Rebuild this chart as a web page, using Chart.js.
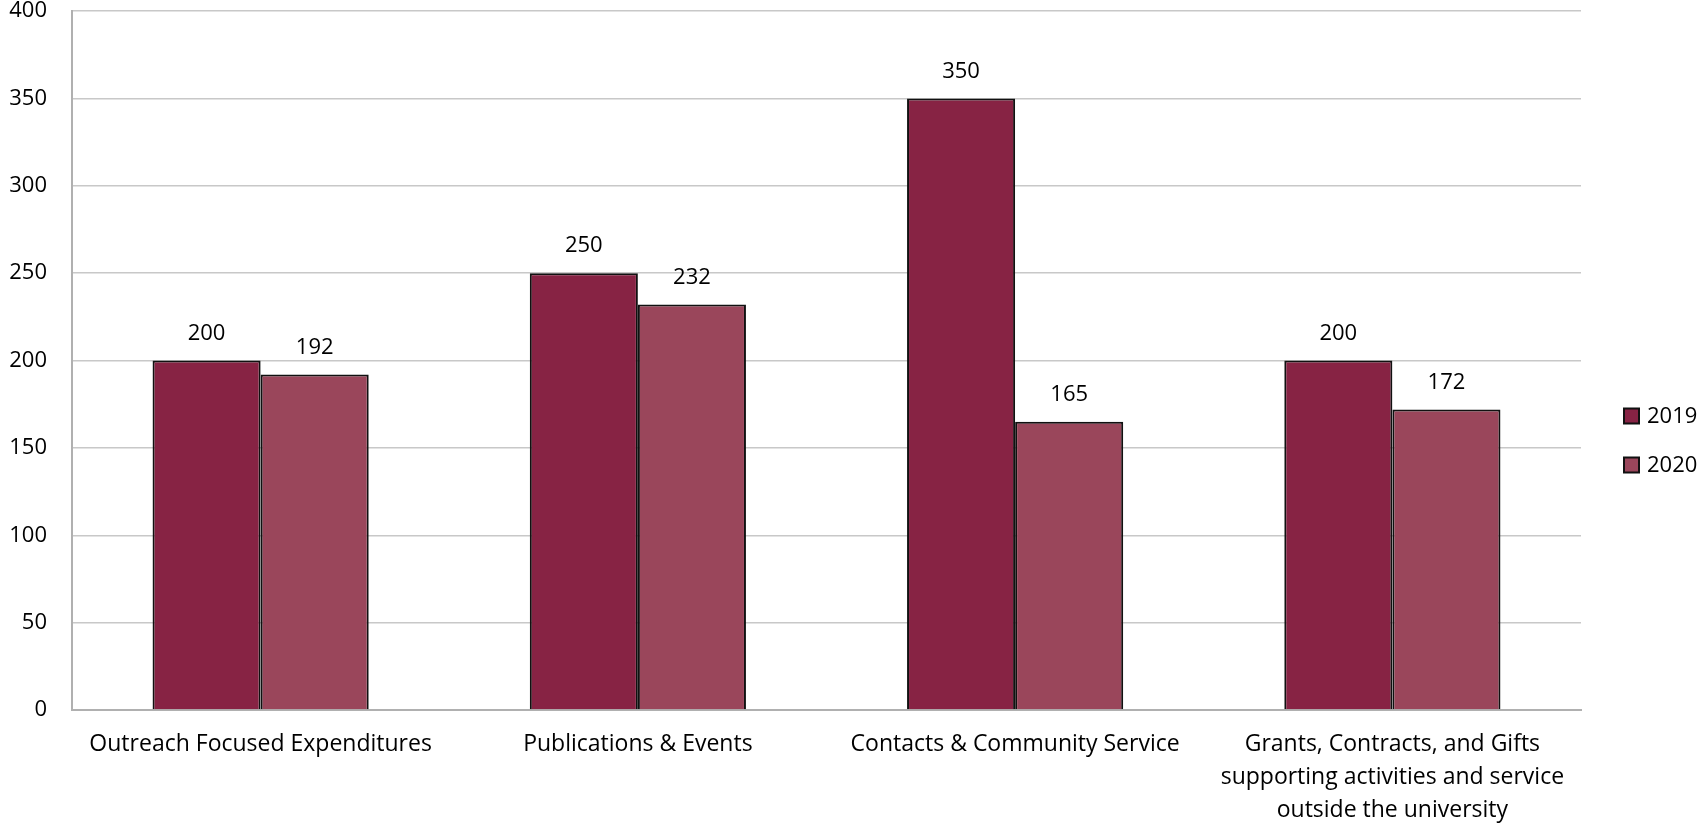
<!DOCTYPE html>
<html>
<head>
<meta charset="utf-8">
<script src="https://cdn.jsdelivr.net/npm/chart.js@4/dist/chart.umd.min.js"></script>
<style>
html,body{margin:0;padding:0;background:#fff;}
#wrap{width:1700px;height:823px;position:relative;}
</style>
</head>
<body>
<div id="wrap"><canvas id="c" width="1700" height="823"></canvas></div>
<script>
const categories = [
  "Outreach Focused Expenditures",
  "Publications & Events",
  "Contacts & Community Service",
  ["Grants, Contracts, and Gifts", "supporting activities and service", "outside the university"]
];
const seriesNames = ["2019", "2020"];
const values2019 = [200, 250, 350, 200];
const values2020 = [192, 232, 165, 172];
const yTicks = [0, 50, 100, 150, 200, 250, 300, 350, 400];

const FONT = "'Open Sans', sans-serif";
const FS = 22;

const valueLabels = {
  id: 'valueLabels',
  afterDatasetsDraw(chart) {
    const ctx = chart.ctx;
    ctx.save();
    ctx.fillStyle = '#000';
    ctx.font = FS + 'px ' + FONT;
    ctx.textAlign = 'center';
    ctx.textBaseline = 'middle';
    chart.data.datasets.forEach((ds, i) => {
      const meta = chart.getDatasetMeta(i);
      meta.data.forEach((bar, j) => {
        ctx.fillText(String(ds.data[j]), bar.x, bar.y - 27);
      });
    });
    ctx.restore();
  }
};

const sideLegend = {
  id: 'sideLegend',
  afterDraw(chart) {
    const ctx = chart.ctx;
    const x0 = chart.chartArea.right + 43;
    const yc = (chart.chartArea.top + chart.chartArea.bottom) / 2 + 80;
    const gap = 49;
    ctx.save();
    ctx.font = FS + 'px ' + FONT;
    ctx.textBaseline = 'middle';
    ctx.textAlign = 'left';
    chart.data.datasets.forEach((ds, i) => {
      const cy = yc - gap / 2 + i * gap;
      ctx.fillStyle = ds.backgroundColor;
      ctx.fillRect(x0, cy - 7.5, 15, 15);
      ctx.lineWidth = 2;
      ctx.strokeStyle = '#111';
      ctx.strokeRect(x0, cy - 7.5, 15, 15);
      ctx.fillStyle = '#000';
      ctx.fillText(ds.label, x0 + 23, cy + 1);
    });
    ctx.restore();
  }
};

new Chart(document.getElementById('c'), {
  type: 'bar',
  data: {
    labels: categories,
    datasets: [
      { label: seriesNames[0], data: values2019, backgroundColor: '#872344', borderColor: '#111', borderWidth: 2, borderSkipped: 'bottom', categoryPercentage: 0.573, barPercentage: 1.0 },
      { label: seriesNames[1], data: values2020, backgroundColor: '#9a465b', borderColor: '#111', borderWidth: 2, borderSkipped: 'bottom', categoryPercentage: 0.573, barPercentage: 1.0 }
    ]
  },
  options: {
    responsive: false,
    animation: false,
    devicePixelRatio: 1,
    layout: { padding: { top: 11, right: 119, left: 0, bottom: 0 } },
    plugins: {
      legend: { display: false },
      tooltip: { enabled: false }
    },
    scales: {
      x: {
        grid: { display: false, drawTicks: false },
        border: { color: '#b0b0b0', width: 2 },
        ticks: { font: { family: FONT, size: 23, lineHeight: 1.43 }, color: '#000', padding: 18, maxRotation: 0, autoSkip: false },
        afterFit(s) { s.height = 113; s.paddingLeft = 0; s.paddingRight = 0; }
      },
      y: {
        min: 0, max: 400,
        afterBuildTicks(s) { s.ticks = yTicks.map(v => ({ value: v })); },
        grid: { color: '#c8c8c8', lineWidth: 1.5, drawTicks: false },
        border: { color: '#b0b0b0', width: 2 },
        ticks: { font: { family: FONT, size: FS }, color: '#000', padding: 25 },
        afterFit(s) { s.width = 72; s.paddingTop = 0; s.paddingBottom = 0; }
      }
    }
  },
  plugins: [valueLabels, sideLegend]
});
</script>
</body>
</html>
